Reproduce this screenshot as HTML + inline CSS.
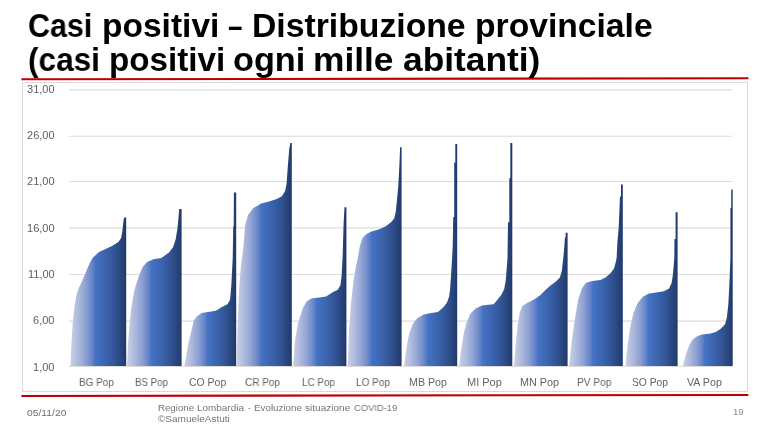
<!DOCTYPE html>
<html><head><meta charset="utf-8"><title>Casi positivi</title>
<style>
html,body{margin:0;padding:0;background:#fff;}
body{width:770px;height:433px;position:relative;overflow:hidden;font-family:"Liberation Sans",sans-serif;}
.title,.yl,.xl,.ft{will-change:transform;}
.title{position:absolute;font-weight:bold;font-size:32.5px;line-height:35px;color:#000;white-space:nowrap;transform-origin:0 0;}
.yl{position:absolute;font-size:10.4px;line-height:12px;color:#606060;white-space:nowrap;transform-origin:0 0;}
.xl{position:absolute;font-size:10.3px;line-height:12px;color:#626262;white-space:nowrap;transform-origin:0 0;}
.ft{position:absolute;font-size:9.6px;line-height:12px;color:#757575;white-space:nowrap;transform-origin:0 0;}
</style></head><body>
<svg width="770" height="433" viewBox="0 0 770 433" style="position:absolute;left:0;top:0"><defs><linearGradient id="g" x1="0" y1="0" x2="1" y2="0"><stop offset="0.000" stop-color="#c8d0e6"/><stop offset="0.050" stop-color="#bfc8e3"/><stop offset="0.100" stop-color="#b5c0df"/><stop offset="0.150" stop-color="#aab8db"/><stop offset="0.200" stop-color="#9faed8"/><stop offset="0.250" stop-color="#92a5d4"/><stop offset="0.300" stop-color="#849ad0"/><stop offset="0.350" stop-color="#748ecc"/><stop offset="0.400" stop-color="#5f81c8"/><stop offset="0.450" stop-color="#4472c4"/><stop offset="0.500" stop-color="#426ebe"/><stop offset="0.550" stop-color="#3f6ab8"/><stop offset="0.600" stop-color="#3d66b1"/><stop offset="0.650" stop-color="#3a62aa"/><stop offset="0.700" stop-color="#375da3"/><stop offset="0.750" stop-color="#34589b"/><stop offset="0.800" stop-color="#315392"/><stop offset="0.850" stop-color="#2d4d89"/><stop offset="0.900" stop-color="#29477f"/><stop offset="0.950" stop-color="#254074"/><stop offset="1.000" stop-color="#203868"/></linearGradient></defs><rect x="22.5" y="82.5" width="725" height="309" fill="#fff" stroke="#d9d9d9" stroke-width="1"/><line x1="69" x2="732.3" y1="89.90" y2="89.90" stroke="#dcdcdc" stroke-width="1.1"/><line x1="69" x2="732.3" y1="136.30" y2="136.30" stroke="#dcdcdc" stroke-width="1.1"/><line x1="69" x2="732.3" y1="181.50" y2="181.50" stroke="#dcdcdc" stroke-width="1.1"/><line x1="69" x2="732.3" y1="227.90" y2="227.90" stroke="#dcdcdc" stroke-width="1.1"/><line x1="69" x2="732.3" y1="274.50" y2="274.50" stroke="#dcdcdc" stroke-width="1.1"/><line x1="69" x2="732.3" y1="321.10" y2="321.10" stroke="#dcdcdc" stroke-width="1.1"/><line x1="69" x2="732.3" y1="366.50" y2="366.50" stroke="#dcdcdc" stroke-width="1.1"/><polygon points="70.4,366.0 71.4,343.7 72.5,325.5 74.3,307.4 76.1,297.0 78.2,289.2 81.3,282.7 84.7,274.9 87.3,268.4 89.9,262.7 92.5,258.0 99.0,252.0 105.5,249.1 112.0,246.0 118.4,242.1 121.0,238.2 122.3,231.7 123.4,221.3 124.2,217.4 126.2,217.4 126.2,366.0" fill="url(#g)"/><polygon points="127.0,366.0 128.0,343.7 129.6,323.0 131.4,307.4 134.0,291.8 136.6,282.7 139.2,274.9 142.6,267.1 147.0,261.9 153.5,259.3 161.3,258.0 169.0,252.5 173.0,247.3 175.6,239.5 177.4,229.1 178.4,218.7 179.2,209.1 181.6,209.1 181.6,366.0" fill="url(#g)"/><polygon points="184.4,366.0 188.4,343.6 191.3,330.9 193.8,320.5 196.8,316.4 201.6,313.1 208.0,312.0 215.8,310.7 222.3,306.8 227.5,304.2 230.1,299.6 231.4,284.0 232.7,258.0 233.2,227.0 233.7,226.0 233.9,192.6 236.2,192.6 236.2,366.0" fill="url(#g)"/><polygon points="236.5,366.0 237.8,323.0 239.1,289.2 240.9,265.8 242.0,258.0 243.5,246.0 245.1,224.9 248.2,214.5 253.4,208.0 261.2,203.6 269.0,201.5 276.8,198.9 281.9,196.3 285.1,191.1 286.6,183.4 287.7,167.8 289.2,149.6 290.3,143.1 291.8,143.1 291.8,366.0" fill="url(#g)"/><polygon points="293.1,366.0 294.9,341.1 298.0,322.9 302.7,308.6 306.6,301.6 311.8,298.3 319.6,297.5 326.1,296.4 332.6,292.3 337.8,289.7 340.4,285.3 341.6,276.2 342.7,254.5 343.6,223.6 344.5,207.2 346.4,207.2 346.4,366.0" fill="url(#g)"/><polygon points="347.7,366.0 349.0,330.7 350.8,304.8 353.4,281.4 356.0,265.8 357.8,258.0 359.9,246.0 362.5,237.9 366.4,234.0 371.6,231.4 379.4,229.3 385.8,226.2 391.0,222.3 394.2,218.4 395.7,211.9 396.8,201.5 398.3,185.9 399.4,165.2 400.1,147.3 401.6,147.3 401.6,366.0" fill="url(#g)"/><polygon points="404.1,366.0 406.7,346.3 409.3,333.3 412.7,324.2 417.1,318.3 423.6,314.6 431.4,313.1 437.9,312.0 443.1,307.4 446.9,302.7 449.0,297.0 450.1,289.2 451.1,273.6 452.1,258.0 452.7,246.0 453.2,217.1 454.2,217.1 454.2,162.6 455.3,162.6 455.3,143.9 457.2,143.9 457.2,366.0" fill="url(#g)"/><polygon points="459.2,366.0 461.2,348.9 463.8,333.3 466.4,322.9 470.3,313.8 475.5,308.6 482.0,305.5 488.5,304.8 493.7,304.2 497.6,299.6 501.5,294.4 504.1,289.2 505.6,281.4 506.7,268.4 507.5,258.0 508.0,222.3 509.3,222.3 509.3,178.2 510.3,178.2 510.3,143.1 512.3,143.1 512.3,366.0" fill="url(#g)"/><polygon points="514.0,366.0 515.8,343.7 517.6,325.5 519.7,312.5 522.3,306.1 527.5,302.7 534.0,299.6 540.5,294.9 545.6,289.7 550.8,285.3 556.0,281.4 559.9,277.5 561.8,271.0 563.3,258.0 564.4,246.0 564.9,237.4 565.6,237.4 565.6,232.8 567.6,232.8 567.6,366.0" fill="url(#g)"/><polygon points="569.1,366.0 571.7,341.1 575.1,317.7 578.2,299.6 582.1,287.9 586.0,282.7 592.5,280.9 600.3,280.1 605.5,277.5 610.6,273.1 614.0,268.4 615.8,261.9 616.6,258.0 617.4,242.1 618.7,227.8 620.0,196.6 621.0,196.6 621.0,184.4 622.8,184.4 622.8,366.0" fill="url(#g)"/><polygon points="625.5,366.0 627.5,346.3 630.1,328.1 633.2,313.8 637.4,303.5 642.6,297.0 648.3,293.8 656.1,292.5 663.9,291.2 669.1,288.6 671.7,282.7 673.0,273.6 674.3,258.0 674.5,239.0 675.6,239.0 675.6,212.2 677.6,212.2 677.6,366.0" fill="url(#g)"/><polygon points="682.6,366.0 686.0,354.1 689.4,345.0 692.5,339.8 696.4,336.7 701.6,334.6 709.4,333.8 715.9,332.0 721.0,328.6 725.0,324.2 726.8,317.7 728.3,304.8 729.4,284.0 730.4,258.0 730.4,207.8 731.2,207.8 731.2,189.6 732.7,189.6 732.7,366.0" fill="url(#g)"/><line x1="21.4" y1="79.25" x2="748.4" y2="78.25" stroke="#c00000" stroke-width="2.1"/><line x1="21.4" y1="396.0" x2="748.4" y2="394.95" stroke="#c00000" stroke-width="2.1"/></svg>
<div class="title" style="left:28.16px;top:8.8px;transform:scaleX(0.9372);">Casi</div><div class="title" style="left:101.54px;top:8.8px;transform:scaleX(1.0316);">positivi</div><div class="title" style="left:228.30px;top:8.8px;transform:scaleX(0.7944);">–</div><div class="title" style="left:252.42px;top:8.8px;transform:scaleX(1.0377);">Distribuzione</div><div class="title" style="left:474.53px;top:8.8px;transform:scaleX(1.0349);">provinciale</div><div class="title" style="left:27.93px;top:43px;transform:scaleX(0.9712);">(casi</div><div class="title" style="left:109.36px;top:43px;transform:scaleX(1.0215);">positivi</div><div class="title" style="left:233.45px;top:43px;transform:scaleX(1.0540);">ogni</div><div class="title" style="left:313.13px;top:43px;transform:scaleX(1.0861);">mille</div><div class="title" style="left:403.10px;top:43px;transform:scaleX(1.0871);">abitanti)</div>
<div class="yl" style="left:26.70px;top:83.85px;transform:scaleX(1.0600)">31,00</div><div class="yl" style="left:26.70px;top:130.13px;transform:scaleX(1.0600)">26,00</div><div class="yl" style="left:26.70px;top:176.41px;transform:scaleX(1.0600)">21,00</div><div class="yl" style="left:26.70px;top:222.69px;transform:scaleX(1.0600)">16,00</div><div class="yl" style="left:27.52px;top:268.97px;transform:scaleX(1.0600)">11,00</div><div class="yl" style="left:32.83px;top:315.25px;transform:scaleX(1.0600)">6,00</div><div class="yl" style="left:32.83px;top:361.53px;transform:scaleX(1.0600)">1,00</div><div class="xl" style="left:78.70px;top:377.2px;transform:scaleX(0.9688);">BG Pop</div><div class="xl" style="left:135.30px;top:377.2px;transform:scaleX(0.9434);">BS Pop</div><div class="xl" style="left:188.80px;top:377.2px;transform:scaleX(1.0162);">CO Pop</div><div class="xl" style="left:245.00px;top:377.2px;transform:scaleX(0.9717);">CR Pop</div><div class="xl" style="left:301.70px;top:377.2px;transform:scaleX(0.9590);">LC Pop</div><div class="xl" style="left:355.80px;top:377.2px;transform:scaleX(0.9718);">LO Pop</div><div class="xl" style="left:409.30px;top:377.2px;transform:scaleX(1.0352);">MB Pop</div><div class="xl" style="left:466.90px;top:377.2px;transform:scaleX(1.0671);">MI Pop</div><div class="xl" style="left:519.60px;top:377.2px;transform:scaleX(1.0489);">MN Pop</div><div class="xl" style="left:577.10px;top:377.2px;transform:scaleX(0.9860);">PV Pop</div><div class="xl" style="left:631.70px;top:377.2px;transform:scaleX(0.9881);">SO Pop</div><div class="xl" style="left:687.10px;top:377.2px;transform:scaleX(1.0370);">VA Pop</div><div class="ft" style="left:157.60px;top:401.6px;transform:scaleX(1.0084);">Regione</div><div class="ft" style="left:196.90px;top:401.6px;transform:scaleX(1.0349);">Lombardia</div><div class="ft" style="left:248.20px;top:401.6px;transform:scaleX(0.7667);">-</div><div class="ft" style="left:254.20px;top:401.6px;transform:scaleX(1.0215);">Evoluzione</div><div class="ft" style="left:305.10px;top:401.6px;transform:scaleX(1.0475);">situazione</div><div class="ft" style="left:353.60px;top:401.6px;transform:scaleX(0.9746);">COVID-19</div><div class="ft" style="left:157.70px;top:412.9px;transform:scaleX(1.0422);">©SamueleAstuti</div><div class="ft" style="left:27.40px;top:406.6px;transform:scaleX(1.0441);font-size:9.9px;color:#6e6e6e">05/11/20</div><div class="ft" style="left:732.50px;top:405.9px;transform:scaleX(0.9869);color:#8a8a8a">19</div>
</body></html>
